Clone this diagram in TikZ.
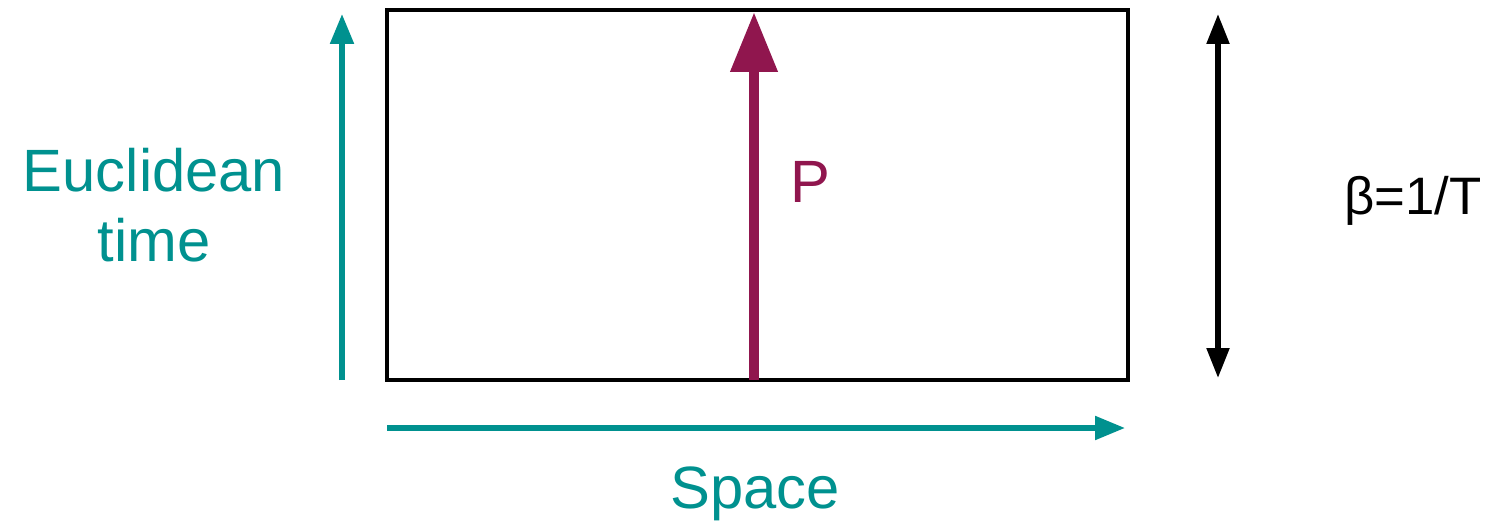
\documentclass[tikz,border=0pt]{standalone}
\usepackage{fontspec}
\setmainfont{Liberation Sans}
\usetikzlibrary{arrows.meta}
\definecolor{axisteal}{RGB}{0,145,143}
\definecolor{pathred}{RGB}{144,22,78}
\begin{document}
\begin{tikzpicture}[x=0.02cm, y=-0.02cm]
\useasboundingbox (0,0) rectangle (1503,523);
\coordinate (sw) at (387,380);
\coordinate (ne) at (1128,10);
\draw[line width=2.3pt] (sw) rectangle (ne);

\coordinate (tbot) at (342,380);
\coordinate (ttop) at (342,14);
\coordinate (sleft) at (387,428);
\coordinate (sright) at (1125,428);
\coordinate (bbot) at (1218,378);
\coordinate (btop) at (1218,14);
\coordinate (pbot) at (754,380);
\coordinate (ptop) at (754,12);

\draw[axisteal, line width=3pt, -{Triangle[length=0.6cm,width=0.46cm]}] (tbot) -- (ttop);
\draw[axisteal, line width=3pt, -{Triangle[length=0.6cm,width=0.46cm]}] (sleft) -- (sright);
\draw[line width=3pt, {Triangle[length=0.6cm,width=0.44cm]}-{Triangle[length=0.6cm,width=0.44cm]}] (bbot) -- (btop);
\draw[pathred, line width=6pt, -{Triangle[length=1.2cm,width=0.9cm]}] (pbot) -- (ptop);

\node (euclid) [text=axisteal, align=center, font=\fontsize{34}{40}\selectfont] at (154,205) {Euclidean\\time};
\node (space) [text=axisteal, anchor=base, font=\fontsize{34}{40}\selectfont] at (755,508) {Space};
\node (plabel) [text=pathred, anchor=base west, font=\fontsize{34}{40}\selectfont] at (784,203) {P};
\node (beta) [anchor=base, font=\fontsize{30}{36}\selectfont] at (1413,215) {β=1/T};
\end{tikzpicture}
\end{document}
